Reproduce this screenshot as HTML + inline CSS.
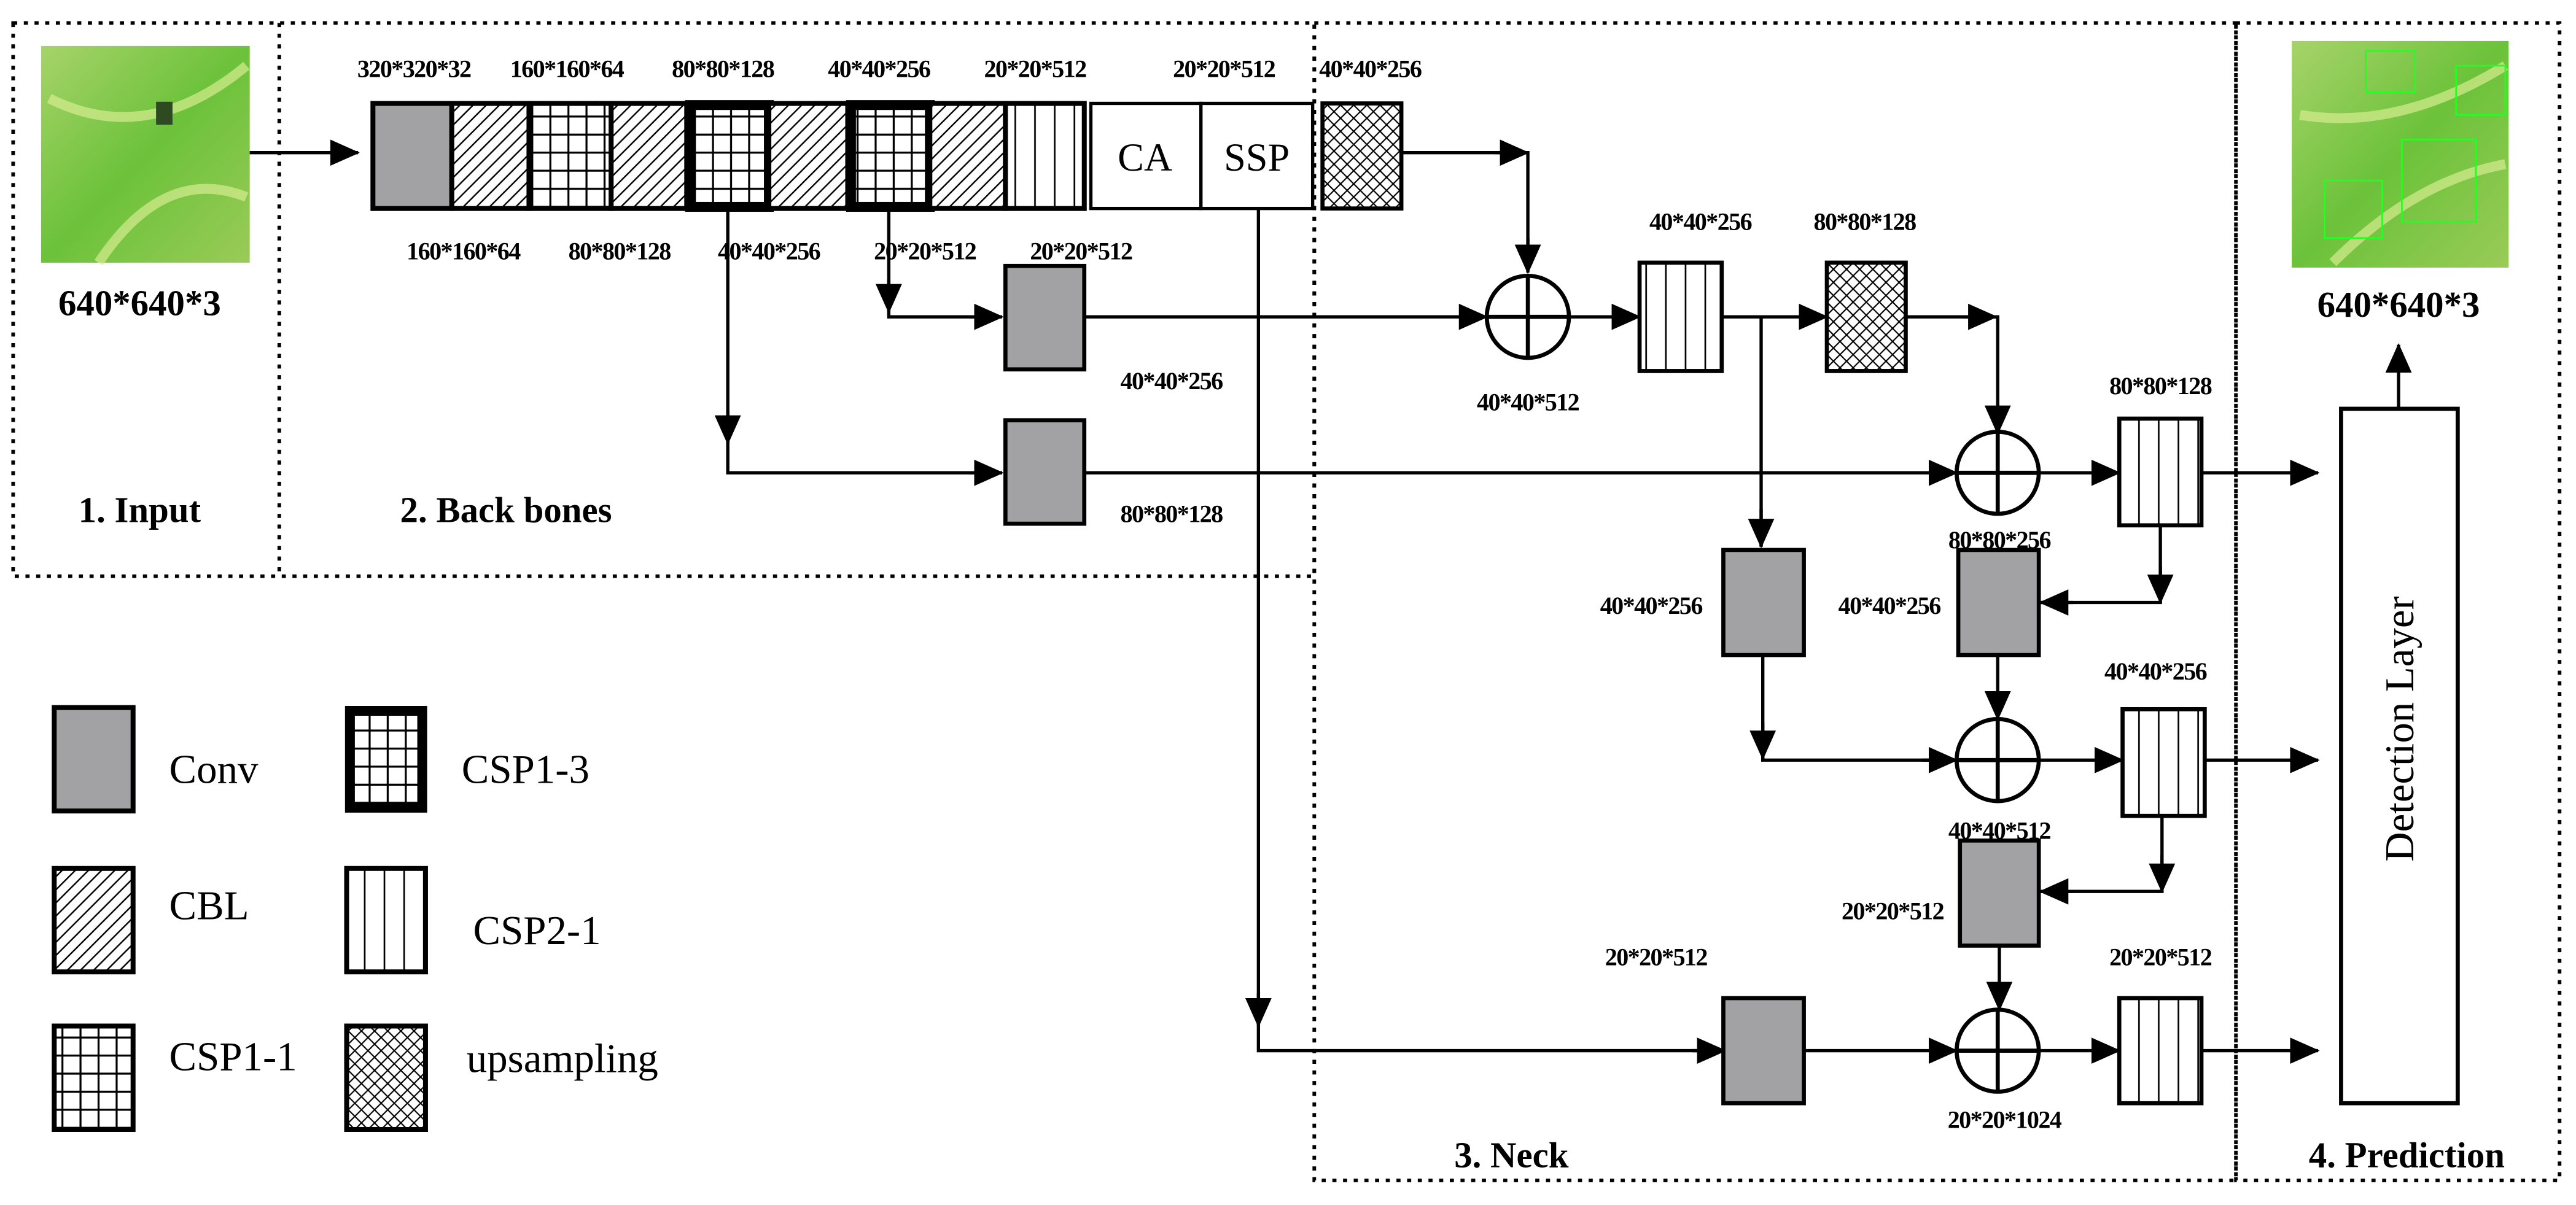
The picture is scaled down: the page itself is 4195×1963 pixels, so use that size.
<!DOCTYPE html>
<html><head><meta charset="utf-8"><style>
html,body{margin:0;padding:0;background:#fff;}
svg{display:block;}
.s{font-family:"Liberation Serif",serif;font-weight:bold;font-size:15px;text-anchor:middle;letter-spacing:-0.6px;}
.b{font-family:"Liberation Serif",serif;font-weight:bold;font-size:22px;text-anchor:middle;}
.l{font-family:"Liberation Serif",serif;font-size:25px;}
</style></head><body>
<svg width="4195" height="1963" viewBox="0 0 1568 734" preserveAspectRatio="none" xmlns="http://www.w3.org/2000/svg">
<defs>
<pattern id="diag" width="8" height="8" patternUnits="userSpaceOnUse"><rect width="8" height="8" fill="#fff"/><path d="M-2,10 L10,-2 M-2,2 L2,-2 M6,10 L10,6" stroke="#000" stroke-width="0.9"/></pattern>
<pattern id="vert" width="12" height="10" patternUnits="userSpaceOnUse"><rect width="12" height="10" fill="#fff"/><path d="M6,0 V10" stroke="#000" stroke-width="1"/></pattern>
<pattern id="grid" width="11" height="11" patternUnits="userSpaceOnUse"><rect width="11" height="11" fill="#fff"/><path d="M5,0 V11 M0,5 H11" stroke="#000" stroke-width="1.2"/></pattern>
<pattern id="cross" width="8" height="8" patternUnits="userSpaceOnUse"><rect width="8" height="8" fill="#fff"/><path d="M0,0 L8,8 M8,0 L0,8" stroke="#000" stroke-width="0.8"/></pattern>
<marker id="a" markerWidth="18" markerHeight="16" refX="17" refY="8" orient="auto" markerUnits="userSpaceOnUse"><path d="M0,0 L18,8 L0,16 Z" fill="#000"/></marker>
<linearGradient id="g1" x1="0" y1="0" x2="1" y2="1"><stop offset="0" stop-color="#a7d36a"/><stop offset="0.5" stop-color="#6cc23a"/><stop offset="1" stop-color="#9acb58"/></linearGradient>
</defs>

<g fill="none" stroke="#000" stroke-width="2.2" stroke-dasharray="2.5 4">
<rect x="8" y="14" width="792" height="337"/>
<line x1="170" y1="14" x2="170" y2="351"/>
<rect x="800" y="14" width="561" height="705"/>
<rect x="1361" y="14" width="197" height="705"/>
</g>

<rect x="25" y="28" width="127" height="132" fill="url(#g1)"/>
<path d="M30,60 Q90,90 150,40 M60,160 Q100,100 150,120" stroke="#d6ec90" stroke-width="6" fill="none" opacity="0.7"/>
<rect x="95" y="62" width="10" height="14" fill="#2e4a20"/>
<text class="b" x="85" y="192">640*640*3</text>
<line x1="152" y1="93" x2="218" y2="93" stroke="#000" stroke-width="2" marker-end="url(#a)"/>

<g stroke="#000" stroke-width="3">
<rect x="227" y="63" width="48" height="64" fill="#a2a2a4"/>
<rect x="275" y="63" width="47" height="64" fill="url(#diag)"/>
<rect x="322" y="63" width="50" height="64" fill="url(#grid)"/>
<rect x="372" y="63" width="46" height="64" fill="url(#diag)"/>
<rect x="420" y="64" width="48" height="62" fill="url(#grid)" stroke-width="6"/>
<rect x="468" y="63" width="48" height="64" fill="url(#diag)"/>
<rect x="518" y="64" width="48" height="62" fill="url(#grid)" stroke-width="6"/>
<rect x="566" y="63" width="46" height="64" fill="url(#diag)"/>
<rect x="612" y="63" width="48" height="64" fill="url(#vert)"/>
<rect x="664" y="63" width="67" height="64" fill="#fff" stroke-width="2"/>
<rect x="731" y="63" width="68" height="64" fill="#fff" stroke-width="2"/>
<rect x="805" y="63" width="48" height="64" fill="url(#cross)" stroke-width="2.5"/>
</g>
<text x="697" y="104" style="font-family:'Liberation Serif',serif;font-size:24px;text-anchor:middle">CA</text>
<text x="765" y="104" style="font-family:'Liberation Serif',serif;font-size:24px;text-anchor:middle">SSP</text>

<g>
<text x="252" y="47" class="s">320*320*32</text>
<text x="345" y="47" class="s">160*160*64</text>
<text x="440" y="47" class="s">80*80*128</text>
<text x="535" y="47" class="s">40*40*256</text>
<text x="630" y="47" class="s">20*20*512</text>
<text x="745" y="47" class="s">20*20*512</text>
<text x="834" y="47" class="s">40*40*256</text>
<text x="282" y="158" class="s">160*160*64</text>
<text x="377" y="158" class="s">80*80*128</text>
<text x="468" y="158" class="s">40*40*256</text>
<text x="563" y="158" class="s">20*20*512</text>
<text x="658" y="158" class="s">20*20*512</text>
<text x="713" y="237" class="s">40*40*256</text>
<text x="713" y="318" class="s">80*80*128</text>
<text x="930" y="250" class="s">40*40*512</text>
<text x="1035" y="140" class="s">40*40*256</text>
<text x="1135" y="140" class="s">80*80*128</text>
<text x="1315" y="240" class="s">80*80*128</text>
<text x="1217" y="334" class="s">80*80*256</text>
<text x="1005" y="374" class="s">40*40*256</text>
<text x="1150" y="374" class="s">40*40*256</text>
<text x="1312" y="414" class="s">40*40*256</text>
<text x="1217" y="511" class="s">40*40*512</text>
<text x="1152" y="560" class="s">20*20*512</text>
<text x="1008" y="588" class="s">20*20*512</text>
<text x="1315" y="588" class="s">20*20*512</text>
<text x="1220" y="687" class="s">20*20*1024</text>
</g>

<g stroke="#000" stroke-width="2" fill="none">
<path d="M443,127 V288 H608" />
<line x1="443" y1="250" x2="443" y2="270" marker-end="url(#a)"/>
<line x1="590" y1="288" x2="610" y2="288" marker-end="url(#a)"/>
<path d="M541,127 V193 H608"/>
<line x1="541" y1="170" x2="541" y2="190" marker-end="url(#a)"/>
<line x1="590" y1="193" x2="610" y2="193" marker-end="url(#a)"/>
<path d="M766,127 V640 H1045"/>
<line x1="766" y1="605" x2="766" y2="625" marker-end="url(#a)"/>
<line x1="1030" y1="640" x2="1050" y2="640" marker-end="url(#a)"/>
<path d="M853,93 H930 V165"/>
<line x1="910" y1="93" x2="930" y2="93" marker-end="url(#a)"/>
<line x1="930" y1="145" x2="930" y2="166" marker-end="url(#a)"/>
<line x1="660" y1="193" x2="905" y2="193" marker-end="url(#a)"/>
<line x1="955" y1="193" x2="998" y2="193" marker-end="url(#a)"/>
<line x1="1048" y1="193" x2="1112" y2="193" marker-end="url(#a)"/>
<path d="M1072,193 V333"/>
<line x1="1072" y1="310" x2="1072" y2="333" marker-end="url(#a)"/>
<path d="M1160,193 H1216 V265"/>
<line x1="1195" y1="193" x2="1215" y2="193" marker-end="url(#a)"/>
<line x1="1216" y1="245" x2="1216" y2="264" marker-end="url(#a)"/>
<line x1="660" y1="288" x2="1191" y2="288" marker-end="url(#a)"/>
<line x1="1242" y1="288" x2="1290" y2="288" marker-end="url(#a)"/>
<line x1="1340" y1="288" x2="1411" y2="288" marker-end="url(#a)"/>
<path d="M1315,320 V367 H1242"/>
<line x1="1315" y1="345" x2="1315" y2="367" marker-end="url(#a)"/>
<line x1="1262" y1="367" x2="1242" y2="367" marker-end="url(#a)"/>
<line x1="1216" y1="399" x2="1216" y2="438" marker-end="url(#a)"/>
<path d="M1073,399 V463 H1191"/>
<line x1="1073" y1="440" x2="1073" y2="462" marker-end="url(#a)"/>
<line x1="1170" y1="463" x2="1191" y2="463" marker-end="url(#a)"/>
<line x1="1241" y1="463" x2="1292" y2="463" marker-end="url(#a)"/>
<line x1="1342" y1="463" x2="1411" y2="463" marker-end="url(#a)"/>
<path d="M1316,497 V543 H1242"/>
<line x1="1316" y1="521" x2="1316" y2="543" marker-end="url(#a)"/>
<line x1="1262" y1="543" x2="1242" y2="543" marker-end="url(#a)"/>
<line x1="1217" y1="576" x2="1217" y2="615" marker-end="url(#a)"/>
<line x1="1098" y1="640" x2="1191" y2="640" marker-end="url(#a)"/>
<line x1="1241" y1="640" x2="1290" y2="640" marker-end="url(#a)"/>
<line x1="1340" y1="640" x2="1411" y2="640" marker-end="url(#a)"/>
<line x1="1460" y1="249" x2="1460" y2="210" marker-end="url(#a)"/>
</g>

<g stroke="#000" stroke-width="2.5" fill="#fff">
<circle cx="930" cy="193" r="25"/>
<circle cx="1216" cy="288" r="25"/>
<circle cx="1216" cy="463" r="25"/>
<circle cx="1216" cy="640" r="25"/>
</g>
<g stroke="#000" stroke-width="2.5">
<path d="M905,193 H955 M930,168 V218"/>
<path d="M1191,288 H1241 M1216,263 V313"/>
<path d="M1191,463 H1241 M1216,438 V488"/>
<path d="M1191,640 H1241 M1216,615 V665"/>
</g>

<g stroke="#000" stroke-width="2.5">
<rect x="612" y="162" width="48" height="63" fill="#a2a2a4"/>
<rect x="612" y="256" width="48" height="63" fill="#a2a2a4"/>
<rect x="998" y="160" width="50" height="66" fill="url(#vert)"/>
<rect x="1112" y="160" width="48" height="66" fill="url(#cross)"/>
<rect x="1290" y="255" width="50" height="65" fill="url(#vert)"/>
<rect x="1049" y="335" width="49" height="64" fill="#a2a2a4"/>
<rect x="1192" y="335" width="49" height="64" fill="#a2a2a4"/>
<rect x="1292" y="432" width="50" height="65" fill="url(#vert)"/>
<rect x="1193" y="512" width="48" height="64" fill="#a2a2a4"/>
<rect x="1049" y="608" width="49" height="64" fill="#a2a2a4"/>
<rect x="1290" y="608" width="50" height="64" fill="url(#vert)"/>
<rect x="1425" y="249" width="71" height="423" fill="#fff"/>
</g>
<text transform="translate(1469,444) rotate(-90)" style="font-family:'Liberation Serif',serif;font-size:25px;text-anchor:middle">Detection Layer</text>

<rect x="1395" y="25" width="132" height="138" fill="url(#g1)"/>
<path d="M1400,70 Q1460,80 1525,40 M1420,160 Q1470,110 1525,100" stroke="#d6ec90" stroke-width="6" fill="none" opacity="0.7"/>
<g stroke="#2f2" stroke-width="1" fill="none"><rect x="1440" y="31" width="30" height="25"/><rect x="1495" y="40" width="30" height="30"/><rect x="1462" y="85" width="45" height="50"/><rect x="1415" y="110" width="35" height="35"/></g>
<text class="b" x="1460" y="193">640*640*3</text>

<text class="b" x="85" y="318">1. Input</text>
<text class="b" x="308" y="318">2. Back bones</text>
<text class="b" x="920" y="711">3. Neck</text>
<text class="b" x="1465" y="711">4. Prediction</text>

<g stroke="#000" stroke-width="3">
<rect x="33" y="431" width="48" height="63" fill="#a2a2a4"/>
<rect x="33" y="529" width="48" height="63" fill="url(#diag)"/>
<rect x="33" y="625" width="48" height="63" fill="url(#grid)"/>
<rect x="213" y="433" width="44" height="59" fill="url(#grid)" stroke-width="6"/>
<rect x="211" y="529" width="48" height="63" fill="url(#vert)"/>
<rect x="211" y="625" width="48" height="63" fill="url(#cross)"/>
</g>
<text class="l" x="103" y="477">Conv</text>
<text class="l" x="103" y="560">CBL</text>
<text class="l" x="103" y="652">CSP1-1</text>
<text class="l" x="281" y="477">CSP1-3</text>
<text class="l" x="288" y="575">CSP2-1</text>
<text class="l" x="284" y="653">upsampling</text>
</svg>
</body></html>
